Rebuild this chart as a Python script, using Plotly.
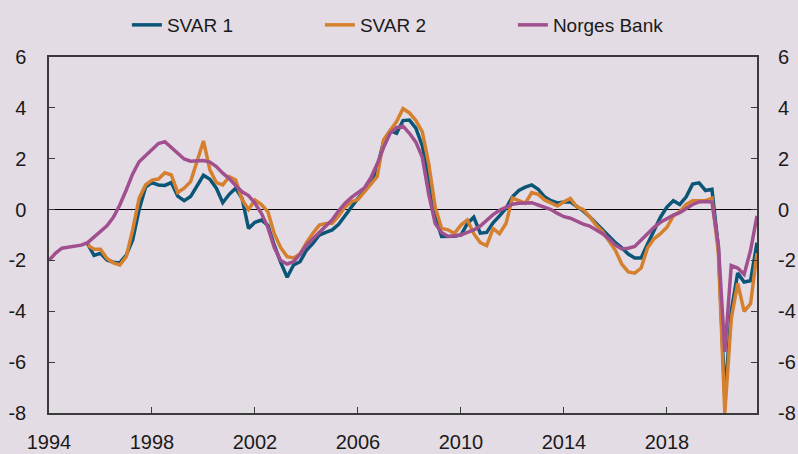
import plotly.graph_objects as go

# Quarterly observations starting 1994Q1
start_year = 1994
n_quarters = 111
quarters = [start_year + i / 4 for i in range(n_quarters)]

svar1 = [None] * 6 + [
    -1.35, -1.8, -1.72, -1.98, -2.07, -2.1, -1.79, -1.2, 0.0, 0.88,
    1.06, 0.97, 0.95, 1.06, 0.53, 0.35, 0.51, 0.9, 1.35, 1.19,
    0.84, 0.27, 0.6, 0.84, 0.44, -0.74, -0.5, -0.41, -0.62, -1.4,
    -2.08, -2.66, -2.18, -2.05, -1.6, -1.33, -1.0, -0.9, -0.8, -0.58,
    -0.22, 0.1, 0.44, 0.75, 1.03, 1.65, 2.7, 3.1, 3.0, 3.5,
    3.52, 3.2, 2.5, 1.3, -0.3, -1.06, -1.06, -1.05, -1.0, -0.55,
    -0.3, -0.93, -0.9, -0.52, -0.25, 0.05, 0.5, 0.75, 0.88, 0.97,
    0.8, 0.5, 0.35, 0.26, 0.3, 0.3, 0.12, -0.05, -0.28, -0.54,
    -0.8, -1.05, -1.3, -1.5, -1.75, -1.9, -1.9, -1.35, -0.8, -0.3,
    0.1, 0.35, 0.2, 0.5, 1.0, 1.05, 0.75, 0.8, -1.5, -7.4,
    -4.0, -2.5, -2.85, -2.8, -1.3,
]

svar2 = [None] * 6 + [
    -1.4, -1.56, -1.56, -1.92, -2.1, -2.18, -1.85, -0.8, 0.44, 0.97,
    1.16, 1.2, 1.45, 1.36, 0.67, 0.84, 1.1, 1.95, 2.7, 1.56,
    1.06, 0.97, 1.29, 1.16, 0.4, 0.0, 0.38, 0.2, -0.08, -0.95,
    -1.5, -1.85, -1.9, -1.75, -1.3, -0.93, -0.61, -0.55, -0.54, -0.25,
    0.1, 0.31, 0.4, 0.7, 1.0, 1.3, 2.75, 3.1, 3.46, 3.97,
    3.8, 3.5, 3.06, 1.8, 0.1, -0.74, -0.8, -0.93, -0.61, -0.41,
    -0.95, -1.3, -1.42, -0.75, -0.95, -0.55, 0.45, 0.35, 0.25, 0.67,
    0.6, 0.38, 0.25, 0.14, 0.31, 0.44, 0.11, 0.0, -0.28, -0.61,
    -0.87, -1.26, -1.6, -2.15, -2.45, -2.5, -2.3, -1.5, -1.15, -0.95,
    -0.7, -0.25, -0.08, 0.2, 0.35, 0.35, 0.35, 0.45, -1.7, -8.0,
    -4.3, -2.9, -4.0, -3.7, -1.72,
]

norges_bank = [
    -2.0, -1.72, -1.52, -1.48, -1.45, -1.4, -1.3, -1.09, -0.87, -0.64,
    -0.3, 0.18, 0.77, 1.4, 1.88, 2.13, 2.37, 2.6, 2.67, 2.45,
    2.21, 1.99, 1.9, 1.92, 1.93, 1.87, 1.69, 1.43, 1.22, 0.95,
    0.7, 0.55, 0.25, -0.15, -0.7, -1.5, -2.0, -2.14, -2.05, -1.75,
    -1.4, -1.15, -0.9, -0.62, -0.4, -0.05, 0.25, 0.48, 0.65, 0.85,
    1.25, 1.8, 2.45, 3.0, 3.22, 3.28, 3.0, 2.65, 2.05, 0.6,
    -0.55, -0.9, -1.06, -1.03, -1.0, -0.9, -0.8, -0.65, -0.42, -0.2,
    -0.03, 0.09, 0.21, 0.25, 0.27, 0.27, 0.18, 0.09, 0.0, -0.15,
    -0.28, -0.34, -0.47, -0.57, -0.65, -0.8, -0.95, -1.15, -1.4, -1.55,
    -1.52, -1.45, -1.2, -0.95, -0.7, -0.5, -0.35, -0.22, -0.12, 0.05,
    0.2, 0.3, 0.32, 0.3, -1.4, -5.6, -2.2, -2.3, -2.55, -1.6,
    -0.25,
]

x_ticks = [1994, 1998, 2002, 2006, 2010, 2014, 2018]
y_ticks = [-8, -6, -4, -2, 0, 2, 4, 6]
y_ticktext = ["-8", "-6", "-4", "-2", "0", "2", "4", "6"]

BG = "#e4dce4"
AXIS = "#3a3a3a"
FONT = "Liberation Sans, Arial, sans-serif"

fig = go.Figure()
fig.add_trace(go.Scatter(x=quarters, y=svar1, name="SVAR 1", mode="lines",
                         line=dict(color="#0b5676", width=3.5)))
fig.add_trace(go.Scatter(x=quarters, y=svar2, name="SVAR 2", mode="lines",
                         line=dict(color="#d5802e", width=3.5)))
fig.add_trace(go.Scatter(x=quarters, y=norges_bank, name="Norges Bank", mode="lines",
                         line=dict(color="#a0508f", width=3.5)))
# invisible trace to activate right-hand axis
fig.add_trace(go.Scatter(x=quarters, y=norges_bank, yaxis="y2", mode="lines",
                         line=dict(width=0), opacity=0, showlegend=False,
                         hoverinfo="skip"))

fig.update_layout(
    width=798, height=454,
    margin=dict(l=49, r=41, t=57, b=41, autoexpand=False),
    paper_bgcolor=BG, plot_bgcolor=BG,
    font=dict(family=FONT, size=20, color="#1a1a1a"),
    showlegend=True,
    legend=dict(orientation="h", xref="container", yref="container",
                x=0.159, y=1 - 25 / 454, xanchor="left", yanchor="middle",
                font=dict(size=19, color="#1a1a1a"), bgcolor="rgba(0,0,0,0)",
                entrywidth=148, entrywidthmode="pixels", itemwidth=30,
                traceorder="normal"),
    xaxis=dict(range=[1994, 2021.5], tickvals=x_ticks, ticktext=[str(v) for v in x_ticks],
               ticks="inside", ticklen=6, tickwidth=1.3, tickcolor=AXIS,
               showline=True, linecolor=AXIS, linewidth=1.5, mirror=True,
               showgrid=False, zeroline=False, ticklabelstandoff=10,
               automargin=False, tickfont=dict(size=20)),
    yaxis=dict(range=[-8, 6], tickvals=y_ticks, ticktext=y_ticktext,
               ticks="inside", ticklen=6,
               tickwidth=1.3, tickcolor=AXIS, showline=True, linecolor=AXIS,
               linewidth=1.5, mirror=True, showgrid=False,
               zeroline=True, zerolinecolor="#000000", zerolinewidth=1.3,
               ticklabelstandoff=17, automargin=False, tickfont=dict(size=20)),
    yaxis2=dict(range=[-8, 6], tickvals=y_ticks, ticktext=y_ticktext,
                overlaying="y", side="right",
                ticks="inside", ticklen=6, tickwidth=1.3, tickcolor=AXIS,
                showline=False, showgrid=False, zeroline=False,
                ticklabelstandoff=20, automargin=False, tickfont=dict(size=20)),
)

fig.write_html(
    "out.html",
    config={"displayModeBar": False},
    post_script="document.body.style.margin='0';"
                "document.body.style.background='" + BG + "';",
)
